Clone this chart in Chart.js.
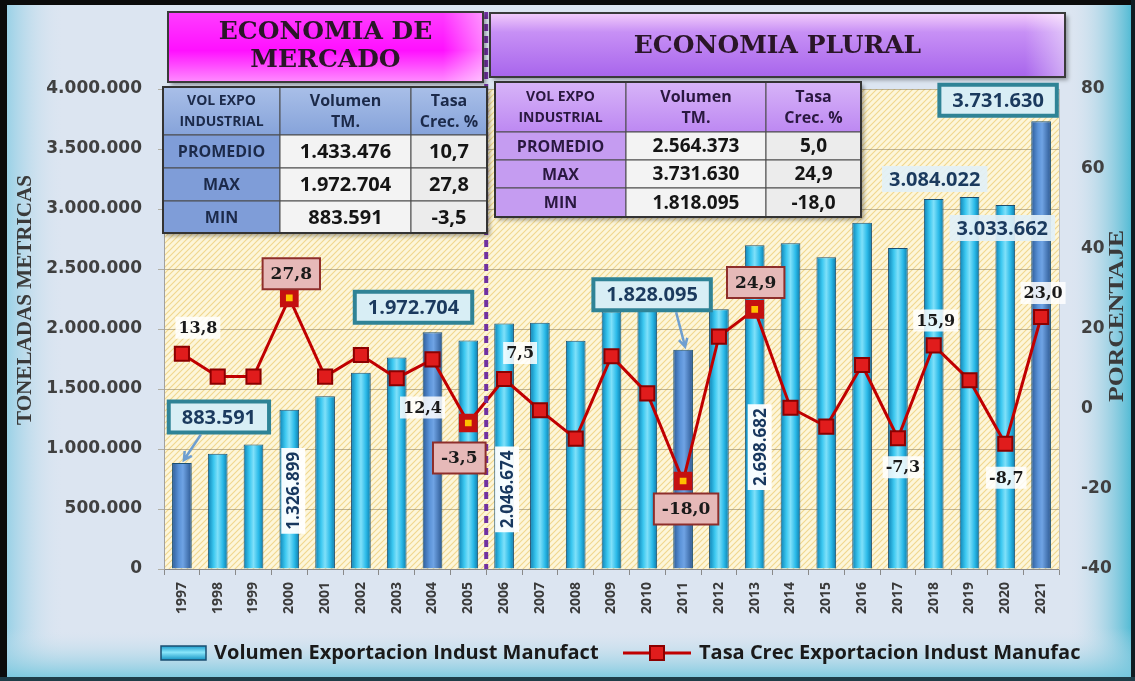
<!DOCTYPE html>
<html>
<head>
<meta charset="utf-8">
<title>Exportacion Industria Manufacturera</title>
<script src="https://cdn.jsdelivr.net/npm/chart.js@4.4.1/dist/chart.umd.min.js"></script>
<style>
  html, body { margin: 0; padding: 0; background: #dce5f1; }
  #wrap { width: 1135px; height: 681px; }
</style>
</head>
<body>
<div id="wrap"><canvas id="myChart" width="1135" height="681"></canvas></div>
<script>
// datos
var years = ['1997', '1998', '1999', '2000', '2001', '2002', '2003', '2004', '2005', '2006', '2007', '2008', '2009',
  '2010', '2011', '2012', '2013', '2014', '2015', '2016', '2017', '2018', '2019', '2020', '2021'];
var volumen = [883591, 960000, 1038000, 1326899, 1440000, 1636000, 1763000, 1972704, 1903659, 2046674, 2052000, 1902000,
  2146000, 2229000, 1828095, 2165000, 2698682, 2715000, 2597000, 2885000, 2674000, 3084022, 3100000, 3033662, 3731630];
var tasa = [13.8, 8.1, 8.1, 27.8, 8.1, 13.5, 7.7, 12.4, -3.5, 7.5, -0.3, -7.4, 13.2, 3.9, -18.0, 18.1, 24.9, 0.3, -4.4,
  11.0, -7.3, 15.9, 7.2, -8.7, 23.0];
var volTicks = [0, 4000000, 500000];   // min, max, paso
var tasaTicks = [-40, 80, 20];

var hiBars = ['1997', '2004', '2011', '2021'];
var hiRates = ['2000', '2005', '2011', '2013'];

var tableHead = [['VOL EXPO', 'INDUSTRIAL'], ['Volumen', 'TM.'], ['Tasa', 'Crec. %']];
var mercadoRows = [['PROMEDIO', '1.433.476', '10,7'], ['MAX', '1.972.704', '27,8'], ['MIN', '883.591', '-3,5']];
var pluralRows = [['PROMEDIO', '2.564.373', '5,0'], ['MAX', '3.731.630', '24,9'], ['MIN', '1.818.095', '-18,0']];

// etiquetas sobre la linea (offset desde el punto)
var rateNotes = [
  { year: '1997', kind: 'plain', dx: 16, dy: -26 },
  { year: '2000', kind: 'box', dx: 2, dy: -24 },
  { year: '2004', kind: 'plain', dx: -10, dy: 48 },
  { year: '2005', kind: 'box', dx: -9, dy: 35 },
  { year: '2006', kind: 'plain', dx: 16, dy: -26 },
  { year: '2011', kind: 'box', dx: 3, dy: 28 },
  { year: '2013', kind: 'box', dx: 1, dy: -27 },
  { year: '2017', kind: 'plain', dx: 5, dy: 29 },
  { year: '2018', kind: 'plain', dx: 2, dy: -25 },
  { year: '2020', kind: 'plain', dx: 1, dy: 34 },
  { year: '2021', kind: 'plain', dx: 2, dy: -24 }
];
// etiquetas de volumen (offset desde el tope de la barra)
var volNotes = [
  { year: '1997', kind: 'teal', dx: 37, dy: -46, ax: -18 },
  { year: '2000', kind: 'vert', dx: 4, dy: 81 },
  { year: '2004', kind: 'teal', dx: -19, dy: -25 },
  { year: '2006', kind: 'vert', dx: 3, dy: 166 },
  { year: '2011', kind: 'teal', dx: -31, dy: -55, ax: 24 },
  { year: '2013', kind: 'vert', dx: 5, dy: 202 },
  { year: '2018', kind: 'soft', dx: 1, dy: -20 },
  { year: '2020', kind: 'soft', dx: -3, dy: 23 },
  { year: '2021', kind: 'teal', dx: -43, dy: -21 }
];

function miles(v) {
  return String(Math.round(v)).replace(/\B(?=(\d{3})+(?!\d))/g, '.');
}
function coma(v) {
  return v.toFixed(1).replace('.', ',');
}

var SANS = '"Open Sans", "DejaVu Sans", sans-serif';
var SERIF = '"DejaVu Serif", "Liberation Serif", serif';
var TICKF = '"DejaVu Sans", sans-serif';

function barFill(context) {
  var chart = context.chart;
  var xs = chart.scales.x;
  var dark = hiBars.indexOf(years[context.dataIndex]) >= 0;
  if (!xs || context.type !== 'data') return dark ? '#4a80c4' : '#29b8e6';
  var cx = xs.getPixelForValue(context.dataIndex);
  if (!isFinite(cx)) return dark ? '#4a80c4' : '#29b8e6';
  var g = chart.ctx.createLinearGradient(cx - 10, 0, cx + 10, 0);
  if (dark) {
    g.addColorStop(0, '#2b5b98');
    g.addColorStop(0.35, '#5b93d8');
    g.addColorStop(0.55, '#6fa3e4');
    g.addColorStop(1, '#2a5690');
  } else {
    g.addColorStop(0, '#0b7fb2');
    g.addColorStop(0.3, '#3cc8f0');
    g.addColorStop(0.5, '#7fe0f9');
    g.addColorStop(0.75, '#2cbbe9');
    g.addColorStop(1, '#0a78a8');
  }
  return g;
}

var hatch = null;
function getHatch(ctx) {
  if (hatch) return hatch;
  var c = document.createElement('canvas');
  c.width = 6; c.height = 6;
  var g = c.getContext('2d');
  g.fillStyle = '#fdf6da';
  g.fillRect(0, 0, 6, 6);
  g.strokeStyle = '#f1d78e';
  g.lineWidth = 1.1;
  g.beginPath();
  g.moveTo(0, 6); g.lineTo(6, 0);
  g.moveTo(-3, 3); g.lineTo(3, -3);
  g.moveTo(3, 9); g.lineTo(9, 3);
  g.stroke();
  hatch = ctx.createPattern(c, 'repeat');
  return hatch;
}

function box(ctx, x, y, w, h, fill, stroke, lw) {
  ctx.beginPath();
  ctx.rect(x, y, w, h);
  if (fill) { ctx.fillStyle = fill; ctx.fill(); }
  if (stroke) { ctx.lineWidth = lw || 1; ctx.strokeStyle = stroke; ctx.stroke(); }
}

function drawArrow(ctx, x1, y1, x2, y2) {
  var a = Math.atan2(y2 - y1, x2 - x1);
  ctx.save();
  ctx.strokeStyle = '#6f9fd0';
  ctx.lineWidth = 2.5;
  ctx.beginPath();
  ctx.moveTo(x1, y1);
  ctx.lineTo(x2, y2);
  ctx.moveTo(x2 - 9 * Math.cos(a - 0.5), y2 - 9 * Math.sin(a - 0.5));
  ctx.lineTo(x2, y2);
  ctx.lineTo(x2 - 9 * Math.cos(a + 0.5), y2 - 9 * Math.sin(a + 0.5));
  ctx.stroke();
  ctx.restore();
}

// texto vertical estirado a un largo dado
function vertTitle(ctx, text, x, y, len) {
  ctx.save();
  ctx.translate(x, y);
  ctx.rotate(-Math.PI / 2);
  var w = ctx.measureText(text).width;
  ctx.scale(len / w, 1);
  ctx.fillText(text, 0, 0);
  ctx.restore();
}

function drawTable(ctx, x, y, cols, rows, head, data, c) {
  var i, j, cx, cy;
  ctx.save();
  ctx.shadowColor = 'rgba(0,0,0,0.35)';
  ctx.shadowOffsetX = 3; ctx.shadowOffsetY = 3; ctx.shadowBlur = 4;
  var tw = cols.reduce(function(a, b) { return a + b; }, 0);
  var th = rows.reduce(function(a, b) { return a + b; }, 0);
  box(ctx, x, y, tw, th, '#ffffff');
  ctx.restore();

  cy = y;
  for (i = 0; i < rows.length; i++) {
    cx = x;
    for (j = 0; j < cols.length; j++) {
      var fill;
      if (i === 0) {
        fill = ctx.createLinearGradient(0, cy, 0, cy + rows[i]);
        fill.addColorStop(0, c.headTop);
        fill.addColorStop(1, c.head);
      } else if (j === 0) {
        fill = c.label;
      } else {
        fill = j === 1 ? '#f3f3f3' : '#ececec';
      }
      box(ctx, cx, cy, cols[j], rows[i], fill, '#4a4a4a', 1);
      ctx.fillStyle = c.text;
      ctx.textAlign = 'center';
      ctx.textBaseline = 'middle';
      var mid = cx + cols[j] / 2;
      if (i === 0) {
        ctx.font = (j === 0 ? 'bold 14px ' : 'bold 16px ') + SANS;
        ctx.fillText(head[j][0], mid, cy + rows[i] / 2 - 10);
        ctx.fillText(head[j][1], mid, cy + rows[i] / 2 + 11);
      } else {
        ctx.font = (j === 0 ? 'bold 16px ' : 'bold ' + c.valSize + 'px ') + SANS;
        ctx.fillStyle = j === 0 ? c.text : '#151515';
        ctx.fillText(data[i - 1][j], mid, cy + rows[i] / 2 + 1);
      }
      cx += cols[j];
    }
    cy += rows[i];
  }
  ctx.lineWidth = 2;
  ctx.strokeStyle = '#333333';
  ctx.strokeRect(x, y, tw, th);
}

function titleBox(ctx, x, y, w, h, stops, lines, lineY) {
  var g = ctx.createLinearGradient(0, y, 0, y + h);
  stops.forEach(function(s) { g.addColorStop(s[0], s[1]); });
  ctx.save();
  ctx.shadowColor = 'rgba(0,0,0,0.35)';
  ctx.shadowOffsetX = 3; ctx.shadowOffsetY = 3; ctx.shadowBlur = 4;
  box(ctx, x, y, w, h, g);
  ctx.restore();
  var gl = ctx.createLinearGradient(x + w - 40, 0, x + w, 0);
  gl.addColorStop(0, 'rgba(255,255,255,0)');
  gl.addColorStop(1, 'rgba(255,255,255,0.45)');
  box(ctx, x + w - 40, y, 40, h, gl);
  box(ctx, x, y, w, h, null, '#3a3a3a', 2);
  ctx.fillStyle = '#2a1628';
  ctx.font = 'bold 25px ' + SERIF;
  ctx.textAlign = 'center';
  ctx.textBaseline = 'middle';
  lines.forEach(function(t, k) { ctx.fillText(t, x + w / 2, lineY[k]); });
}

function labelBox(ctx, text, cx, cy, kind) {
  var w, h;
  ctx.textAlign = 'center';
  ctx.textBaseline = 'middle';
  if (kind === 'teal') {
    ctx.font = 'bold 20px ' + SANS;
    w = ctx.measureText(text).width + 26; h = 31;
    box(ctx, cx - w / 2, cy - h / 2, w, h, '#d8eef5', '#2f8396', 4);
    ctx.fillStyle = '#1b3a5e';
    ctx.fillText(text, cx, cy + 1);
  } else if (kind === 'soft') {
    ctx.font = 'bold 20px ' + SANS;
    w = ctx.measureText(text).width + 14; h = 26;
    box(ctx, cx - w / 2, cy - h / 2, w, h, 'rgba(226,240,247,0.92)');
    ctx.fillStyle = '#1b3a5e';
    ctx.fillText(text, cx, cy + 1);
  } else if (kind === 'vert') {
    ctx.save();
    ctx.translate(cx, cy);
    ctx.rotate(-Math.PI / 2);
    ctx.font = 'bold 17px ' + SANS;
    w = ctx.measureText(text).width + 8; h = 24;
    box(ctx, -w / 2, -h / 2, w, h, 'rgba(255,255,255,0.95)');
    ctx.fillStyle = '#17375e';
    ctx.fillText(text, 0, 1);
    ctx.restore();
  } else if (kind === 'box') {
    ctx.font = 'bold 17px ' + SERIF;
    w = ctx.measureText(text).width + 16; h = 31;
    box(ctx, cx - w / 2, cy - h / 2, w, h, '#e6b9b8', '#8e2e2b', 2);
    ctx.fillStyle = '#1a1a1a';
    ctx.fillText(text, cx, cy + 1);
  } else {
    ctx.font = 'bold 16px ' + SERIF;
    w = ctx.measureText(text).width + 6; h = 22;
    box(ctx, cx - w / 2, cy - h / 2, w, h, 'rgba(255,255,255,0.85)');
    ctx.fillStyle = '#1a1a1a';
    ctx.fillText(text, cx, cy + 1);
  }
  return h;
}

var decor = {
  id: 'decor',
  beforeDraw: function(chart) {
    var ctx = chart.ctx, W = chart.width, H = chart.height, a = chart.chartArea;
    ctx.save();
    box(ctx, 0, 0, W, H, '#dce5f1');
    var g = ctx.createLinearGradient(6, 0, 64, 0);
    g.addColorStop(0, 'rgba(140,205,228,0.85)');
    g.addColorStop(1, 'rgba(220,229,241,0)');
    box(ctx, 6, 0, 58, H, g);
    g = ctx.createLinearGradient(1068, 0, 1132, 0);
    g.addColorStop(0, 'rgba(220,229,241,0)');
    g.addColorStop(1, 'rgba(72,184,210,0.95)');
    box(ctx, 1068, 0, 64, H, g);
    g = ctx.createLinearGradient(0, 628, 0, 677);
    g.addColorStop(0, 'rgba(220,229,241,0)');
    g.addColorStop(1, 'rgba(120,200,222,0.9)');
    box(ctx, 0, 628, W, 49, g);
    box(ctx, 0, 0, 7, H, '#0b0b0b');
    box(ctx, 0, 0, W, 5, '#0b0b0b');
    box(ctx, W - 4, 0, 4, H, '#101c22');
    box(ctx, 0, H - 4, W, 4, '#1f3d48');
    box(ctx, a.left, a.top, a.right - a.left, a.bottom - a.top, getHatch(ctx));
    ctx.restore();
  },
  afterDraw: function(chart) {
    var ctx = chart.ctx, a = chart.chartArea;
    var xs = chart.scales.x, yv = chart.scales.y, yr = chart.scales.y1;
    ctx.save();

    // linea divisoria entre periodos
    var xd = (xs.getPixelForValue(8) + xs.getPixelForValue(9)) / 2;
    ctx.strokeStyle = '#7030a0';
    ctx.lineWidth = 4;
    ctx.setLineDash([7, 5]);
    ctx.beginPath();
    ctx.moveTo(xd, 12);
    ctx.lineTo(xd, a.bottom);
    ctx.stroke();
    ctx.setLineDash([]);

    titleBox(ctx, 168, 12, 315, 70,
      [[0, '#ff3dff'], [0.55, '#ff10ff'], [1, '#ff8cff']],
      ['ECONOMIA DE', 'MERCADO'], [32, 60]);
    titleBox(ctx, 490, 13, 575, 64,
      [[0, '#f4cdfb'], [0.3, '#c790f5'], [1, '#a865ec']],
      ['ECONOMIA PLURAL'], [46]);

    drawTable(ctx, 163, 87, [117, 131, 76], [48, 33, 33, 32], tableHead, mercadoRows,
      { head: '#86a3da', headTop: '#a9bfe8', label: '#7f9dd8', text: '#1c2a4a', valSize: 20 });
    drawTable(ctx, 495, 82, [131, 140, 95], [50, 28, 28, 29], tableHead, pluralRows,
      { head: '#bd88f2', headTop: '#d7b4f8', label: '#c59cf1', text: '#2a1840', valSize: 19 });

    // etiquetas de volumen
    volNotes.forEach(function(n) {
      var i = years.indexOf(n.year);
      var bx = xs.getPixelForValue(i), by = yv.getPixelForValue(volumen[i]);
      var cx = bx + n.dx, cy = by + n.dy;
      var h = labelBox(ctx, miles(volumen[i]), cx, cy, n.kind);
      if (n.ax !== undefined) drawArrow(ctx, cx + n.ax, cy + h / 2 + 2, bx + 2, by - 3);
    });
    // etiquetas de tasa
    rateNotes.forEach(function(n) {
      var i = years.indexOf(n.year);
      var px = xs.getPixelForValue(i), py = yr.getPixelForValue(tasa[i]);
      labelBox(ctx, coma(tasa[i]), px + n.dx, py + n.dy, n.kind);
    });

    // titulos de ejes
    ctx.fillStyle = '#3a3a3a';
    ctx.textAlign = 'center';
    ctx.textBaseline = 'middle';
    ctx.font = 'bold 20px "Liberation Serif", serif';
    vertTitle(ctx, 'TONELADAS METRICAS', 26, 300, 250);
    ctx.font = 'bold 20px "Liberation Serif", serif';
    vertTitle(ctx, 'PORCENTAJE', 1118, 316, 172);

    // leyenda
    var ly = 653;
    var lg = ctx.createLinearGradient(0, ly - 7, 0, ly + 7);
    lg.addColorStop(0, '#1a9ccc');
    lg.addColorStop(0.45, '#8ae6fa');
    lg.addColorStop(1, '#1594c4');
    box(ctx, 161, ly - 7, 45, 14, lg, '#1b4f72', 1.5);
    ctx.font = 'bold 20px ' + SANS;
    ctx.textAlign = 'left';
    ctx.fillStyle = '#1a1a1a';
    ctx.fillText(chart.data.datasets[0].label, 214, ly);
    ctx.strokeStyle = '#c00000';
    ctx.lineWidth = 3;
    ctx.beginPath();
    ctx.moveTo(623, ly);
    ctx.lineTo(691, ly);
    ctx.stroke();
    box(ctx, 650, ly - 7, 14, 14, '#e01c1c', '#8b0000', 2);
    ctx.fillStyle = '#1a1a1a';
    ctx.fillText(chart.data.datasets[1].label, 699, ly);
    ctx.restore();
  }
};

var ctx = document.getElementById('myChart').getContext('2d');
var myChart = new Chart(ctx, {
  type: 'bar',
  data: {
    labels: years,
    datasets: [{
      type: 'bar',
      label: 'Volumen Exportacion Indust Manufact',
      data: volumen,
      yAxisID: 'y',
      order: 2,
      backgroundColor: barFill,
      borderColor: '#1b4f72',
      borderWidth: 1,
      barPercentage: 0.55,
      categoryPercentage: 1
    }, {
      type: 'line',
      label: 'Tasa Crec Exportacion Indust Manufac',
      data: tasa,
      yAxisID: 'y1',
      order: 1,
      borderColor: '#c00000',
      borderWidth: 3,
      tension: 0,
      pointStyle: 'rect',
      pointRadius: years.map(function(y) { return hiRates.indexOf(y) >= 0 ? 9 : 10; }),
      pointBackgroundColor: years.map(function(y) { return hiRates.indexOf(y) >= 0 ? '#ffc000' : '#e01c1c'; }),
      pointBorderColor: years.map(function(y) { return hiRates.indexOf(y) >= 0 ? '#c41010' : '#8b0000'; }),
      pointBorderWidth: years.map(function(y) { return hiRates.indexOf(y) >= 0 ? 6 : 2; })
    }]
  },
  options: {
    responsive: false,
    animation: false,
    devicePixelRatio: 1,
    layout: { padding: { top: 89, left: 0, right: 0, bottom: 0 } },
    plugins: {
      legend: { display: false },
      tooltip: { enabled: false }
    },
    scales: {
      x: {
        grid: { offset: true, drawOnChartArea: false, drawTicks: true, tickLength: 6, color: '#8a8a8a' },
        border: { color: '#8a8a8a' },
        ticks: {
          autoSkip: false, minRotation: 90, maxRotation: 90, padding: 7,
          color: '#3a3a3a', font: { family: SANS, size: 14, weight: 'bold' }
        },
        afterFit: function(s) { s.height = 112; }
      },
      y: {
        position: 'left',
        min: volTicks[0], max: volTicks[1],
        grid: { color: 'rgba(140,128,96,0.55)', tickLength: 6, drawTicks: true },
        border: { color: '#a0a0a0' },
        ticks: {
          stepSize: volTicks[2], padding: 16, color: '#404040',
          font: { family: TICKF, size: 17, weight: 'bold' },
          callback: function(v) { return miles(v); }
        },
        afterFit: function(s) { s.width = 164; }
      },
      y1: {
        position: 'right',
        min: tasaTicks[0], max: tasaTicks[1],
        grid: { display: false, drawTicks: false },
        border: { color: '#c0c0c0' },
        ticks: {
          stepSize: tasaTicks[2], padding: 22, color: '#404040',
          font: { family: TICKF, size: 17, weight: 'bold' }
        },
        afterFit: function(s) { s.width = 76; }
      }
    }
  },
  plugins: [decor]
});
</script>
</body>
</html>
